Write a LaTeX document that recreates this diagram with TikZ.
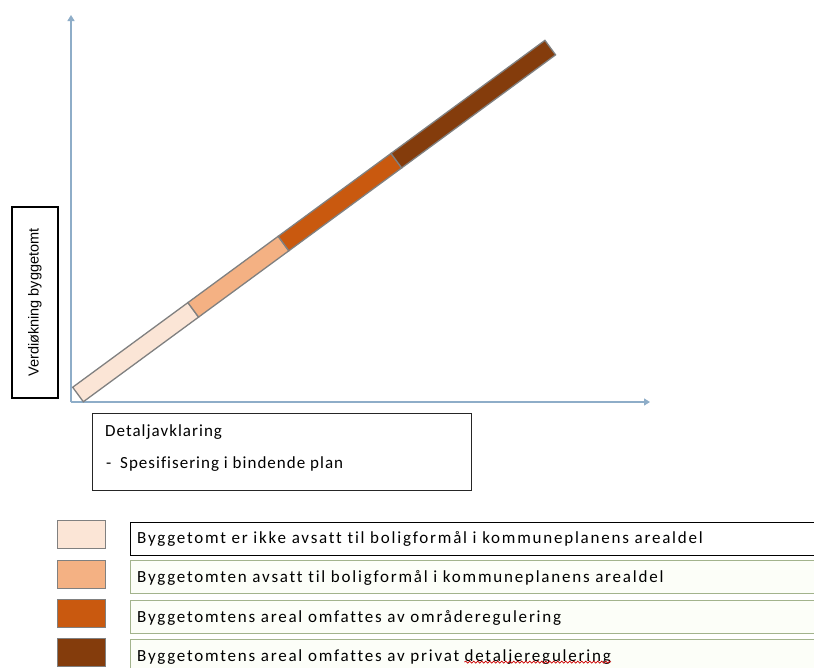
\documentclass[tikz,border=0pt]{standalone}
\usepackage{fontspec}
\setmainfont{Carlito}[LetterSpace=10.5,Ligatures={NoCommon}]
\newfontfamily\arialf{Liberation Sans}
\usetikzlibrary{arrows.meta,decorations.pathmorphing}
\definecolor{axisblue}{HTML}{8EADC8}
\definecolor{cA}{HTML}{FBE5D6}
\definecolor{cB}{HTML}{F4B183}
\definecolor{cC}{HTML}{C9590F}
\definecolor{cD}{HTML}{843C0C}
\definecolor{barline}{HTML}{808080}
\definecolor{legline}{HTML}{A2B38C}
\definecolor{legfill}{HTML}{FCFEF8}
\tikzset{
  axisline/.style={draw=axisblue, line width=1.3pt, -{Triangle[width=7pt,length=6pt]}},
  seg/.style={draw=barline, line width=1.3pt},
  swatch/.style={draw=barline, line width=1.2pt, minimum width=48, minimum height=28, anchor=north west, inner sep=0pt},
  legbox/.style={line width=1.4pt, minimum width=700, minimum height=33, anchor=north west, inner sep=0pt},
  legtext/.style={font=\fontsize{17}{20}\selectfont, anchor=base west, inner sep=0pt},
  boxtext/.style={font=\fontsize{17}{20}\selectfont\addfontfeature{LetterSpace=6}, anchor=base west, inner sep=0pt},
}
\begin{document}
\begin{tikzpicture}[x=1pt,y=-1pt]
\useasboundingbox[fill=white] (0,0) rectangle (814,667);
% axes
\coordinate (O) at (71,402);
\coordinate (ytip) at (71,15);
\coordinate (xtip) at (650,402);
\draw[axisline] (O) -- (ytip);
\draw[axisline] (O) -- (xtip);
% bar
\begin{scope}[shift={(78,394.5)},rotate=36.3]
\draw[seg,fill=cA] (0,-9) rectangle (143,9);
\draw[seg,fill=cB] (143,-9) rectangle (255,9);
\draw[seg,fill=cC] (255,-9) rectangle (395,9);
\draw[seg,fill=cD] (395,-9) rectangle (586,9);
\end{scope}
% y label
\node[draw=black, line width=1.4pt, rotate=90, minimum width=191, minimum height=46, inner sep=0pt,
      font=\arialf\fontsize{14.5}{16}\selectfont] (ylab) at (35,302.5) {Verdiøkning byggetomt};
% detail box
\node[draw=black!85, line width=1.4pt, minimum width=379, minimum height=77, anchor=north west, inner sep=0pt] (dbox) at (92,413) {};
\node[boxtext] (dt1) at (105,436) {Detaljavklaring};
\node[boxtext] (dt2) at (106,468) {-};
\node[boxtext] (dt3) at (120,468) {Spesifisering i bindende plan};
% legend
\node[swatch,fill=cA] (s1) at (57,520) {};
\node[swatch,fill=cB] (s2) at (57,560) {};
\node[swatch,fill=cC] (s3) at (57,599) {};
\node[swatch,fill=cD] (s4) at (57,638) {};
\node[legbox,draw=black,fill=white] (b1) at (130,522) {};
\node[legbox,draw=legline,fill=legfill] (b2) at (130,560) {};
\node[legbox,draw=legline,fill=legfill] (b3) at (130,600) {};
\node[legbox,draw=legline,fill=legfill] (b4) at (130,639) {};
\node[legtext] (t1) at (137,543) {Byggetomt er ikke avsatt til boligformål i kommuneplanens arealdel};
\node[legtext] (t2) at (137,582) {Byggetomten avsatt til boligformål i kommuneplanens arealdel};
\node[legtext] (t3) at (137,622) {Byggetomtens areal omfattes av områderegulering};
\node[legtext] (t4) at (137,661) {Byggetomtens areal omfattes av privat};
\node[legtext] (t4b) at ([xshift=5pt]t4.base east) {detaljeregulering};
\draw[red!80!black, line width=0.7pt, decorate, decoration={snake, amplitude=1pt, segment length=4pt}]
  ([yshift=2pt]t4b.south west) -- ([yshift=2pt]t4b.south east);
\end{tikzpicture}
\end{document}
